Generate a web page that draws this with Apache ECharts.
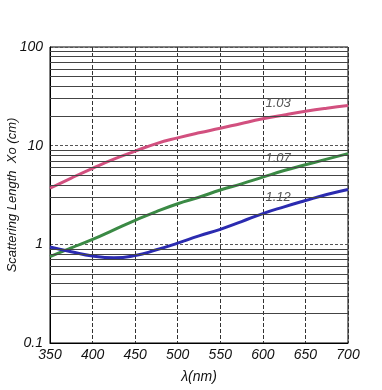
<!DOCTYPE html>
<html>
<head>
<meta charset="utf-8">
<script src="https://cdn.jsdelivr.net/npm/echarts@6/dist/echarts.min.js"></script>
<style>
  html, body { margin: 0; padding: 0; background: #fff; }
  #chart { width: 382px; height: 390px; }
</style>
</head>
<body>
<div id="chart"></div>
<script>
  // wavelength (nm)
  const wavelengths = [350, 375, 400, 425, 450, 475, 500, 525, 550, 575, 600, 625, 650, 675, 700]
  // scattering length Xo (cm) for each refractive index
  const n103 = [3.7, 4.7, 5.9, 7.3, 8.8, 10.5, 12.0, 13.5, 15.0, 16.8, 18.7, 20.5, 22.3, 24.0, 25.6]
  const n107 = [0.75, 0.92, 1.12, 1.4, 1.75, 2.15, 2.58, 3.0, 3.55, 4.1, 4.8, 5.6, 6.4, 7.3, 8.3]
  const n112 = [0.94, 0.84, 0.76, 0.73, 0.77, 0.88, 1.03, 1.22, 1.42, 1.7, 2.05, 2.4, 2.78, 3.2, 3.6]
  const curveLabels = ['1.03', '1.07', '1.12']
  // where the curve labels sit (nm, Xo)
  const labelAt = [[618, 26.6], [618, 7.4], [618, 2.98]]
  // minor log grid lines
  const decades = [0.1, 1, 10]
  const minorSteps = [2, 3, 4, 5, 6, 7, 8, 9]
  const minorGrid = []
  decades.forEach(d => minorSteps.forEach(m => minorGrid.push(+(d * m).toPrecision(3))))

  const font = 'Liberation Sans, Arial, sans-serif'
  const pair = arr => wavelengths.map((x, i) => [x, arr[i]])

  function curve(name, data, color, idx) {
    return {
      name: name,
      type: 'line',
      data: pair(data),
      smooth: true,
      symbol: 'none',
      z: 3,
      lineStyle: { color: color, width: 3 },
      markPoint: {
        symbol: 'circle',
        symbolSize: 0,
        silent: true,
        data: [{ coord: labelAt[idx] }],
        label: {
          show: true,
          formatter: curveLabels[idx],
          color: '#555',
          fontFamily: font,
          fontStyle: 'italic',
          fontSize: 13,
          position: 'inside'
        }
      }
    }
  }

  const chart = echarts.init(document.getElementById('chart'))
  chart.setOption({
    animation: false,
    backgroundColor: '#fff',
    grid: {
      left: 50, right: 34, top: 47, bottom: 47,
      outerBoundsMode: 'none',
      containLabel: false,
      show: true, borderColor: '#000', borderWidth: 1
    },
    xAxis: {
      type: 'value',
      min: 350, max: 700, interval: 50,
      name: 'λ(nm)',
      nameLocation: 'middle',
      nameGap: 27,
      nameMoveOverlap: false,
      nameTextStyle: { fontFamily: font, fontStyle: 'italic', fontSize: 14, color: '#111' },
      axisLine: { lineStyle: { color: '#000' } },
      axisTick: { show: false },
      axisLabel: { fontFamily: font, fontStyle: 'italic', fontSize: 14, color: '#111', margin: 5 },
      splitLine: { lineStyle: { color: '#333', type: [4, 2] } }
    },
    yAxis: {
      type: 'log',
      logBase: 10,
      min: 0.1, max: 100,
      name: 'Scattering Length  Xo (cm)',
      nameLocation: 'middle',
      nameGap: 31,
      nameMoveOverlap: false,
      nameTextStyle: { fontFamily: font, fontStyle: 'italic', fontSize: 13, color: '#111' },
      axisLine: { lineStyle: { color: '#000' } },
      axisTick: { show: false },
      axisLabel: { fontFamily: font, fontStyle: 'italic', fontSize: 14, color: '#111', margin: 7 },
      splitLine: { lineStyle: { color: '#555', type: [3, 2] } }
    },
    series: [
      {
        type: 'line',
        data: [],
        z: 1,
        markLine: {
          silent: true,
          symbol: 'none',
          label: { show: false },
          lineStyle: { color: '#444', type: 'solid', width: 1 },
          data: minorGrid.map(v => ({ yAxis: v }))
        }
      },
      curve('1.03', n103, '#d2507f', 0),
      curve('1.07', n107, '#3b8a45', 1),
      curve('1.12', n112, '#2b2bb0', 2)
    ]
  })
</script>
</body>
</html>
